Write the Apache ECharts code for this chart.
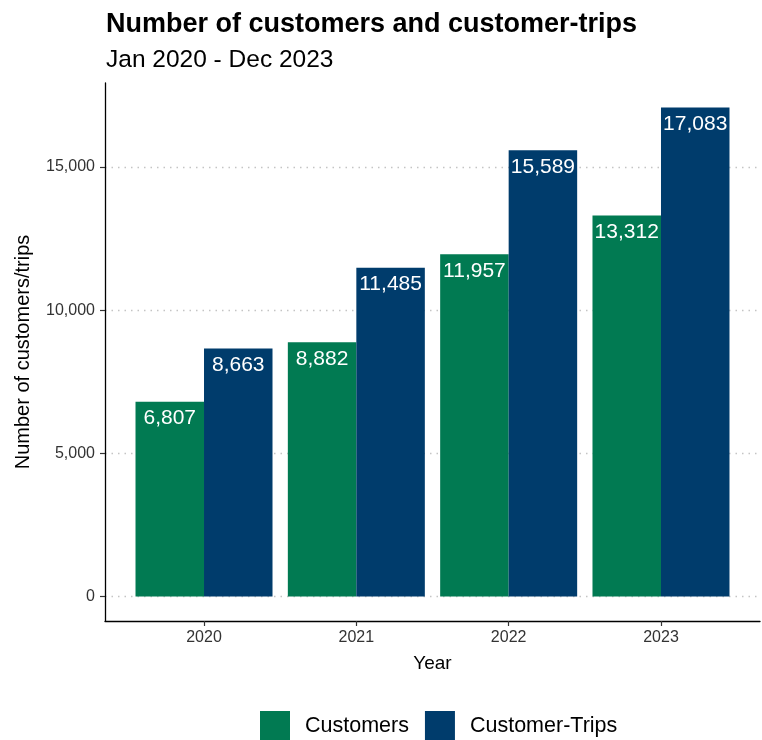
<!DOCTYPE html>
<html>
<head>
<meta charset="utf-8">
<style>
  html, body { margin: 0; padding: 0; background: #fff; }
  #chart { width: 762px; height: 740px; }
</style>
<script src="https://cdn.jsdelivr.net/npm/echarts@6/dist/echarts.min.js"></script>
</head>
<body>
<div id="chart"></div>
<script>
// Yearly totals
const years = ['2020', '2021', '2022', '2023'];
const customers = [6807, 8882, 11957, 13312];
const customerTrips = [8663, 11485, 15589, 17083];
const yTicks = [0, 5000, 10000, 15000];

const FONT = '"Liberation Sans", Arial, sans-serif';
const fmt = v => Math.round(v).toLocaleString('en-US');

// Year positions on a numeric axis: 1..n, padded 0.65 on each side
const xPos = years.map((_, i) => i + 1);
const toPairs = vals => vals.map((v, i) => [xPos[i], v]);

// Value range padded by 5% of the data span on both ends
const yMaxData = Math.max(...customers, ...customerTrips);
const yMin = -0.05 * yMaxData;
const yMax = 1.05 * yMaxData;

const chart = echarts.init(document.getElementById('chart'), null, { renderer: 'canvas' });

const barLabel = {
  show: true,
  position: 'insideTop',
  distance: 6,
  color: '#ffffff',
  fontFamily: FONT,
  fontSize: 21,
  formatter: p => fmt(p.value[1])
};

chart.setOption({
  animation: false,
  backgroundColor: '#ffffff',
  textStyle: { fontFamily: FONT },
  title: [
    {
      text: 'Number of customers and customer-trips',
      left: 101, top: 6,
      textStyle: { fontFamily: FONT, fontSize: 27, fontWeight: 'bold', color: '#000' }
    },
    {
      text: 'Jan 2020 - Dec 2023',
      left: 101, top: 43,
      textStyle: { fontFamily: FONT, fontSize: 24.5, fontWeight: 'normal', color: '#000' }
    }
  ],
  legend: {
    left: 260, top: 711,
    padding: 0,
    itemWidth: 30, itemHeight: 30, itemGap: 16,
    icon: 'rect',
    textStyle: { fontFamily: FONT, fontSize: 21.5, color: '#000', padding: [4, 0, 0, 10] },
    data: ['Customers', 'Customer-Trips']
  },
  grid: { left: 105, right: 2, top: 83, bottom: 119, containLabel: false },
  xAxis: {
    type: 'value',
    min: 0.35, max: xPos.length + 0.65,
    name: 'Year',
    nameLocation: 'middle',
    nameGap: 33,
    nameTextStyle: { fontFamily: FONT, fontSize: 19, color: '#000' },
    axisLine: { show: true, onZero: false, lineStyle: { color: '#000', width: 1.3 } },
    axisTick: { show: true, length: 5, customValues: xPos, lineStyle: { color: '#333', width: 1.2 } },
    axisLabel: {
      customValues: xPos,
      margin: 9,
      fontFamily: FONT, fontSize: 16, color: '#333',
      formatter: v => years[Math.round(v) - 1]
    },
    splitLine: { show: false }
  },
  yAxis: {
    type: 'value',
    min: yMin, max: yMax,
    name: 'Number of customers/trips',
    nameLocation: 'middle',
    nameGap: 72,
    nameRotate: 90,
    nameTextStyle: { fontFamily: FONT, fontSize: 20, color: '#000' },
    axisLine: { show: true, lineStyle: { color: '#000', width: 1.3 } },
    axisTick: { show: true, length: 5, customValues: yTicks, lineStyle: { color: '#333', width: 1.2 } },
    axisLabel: {
      customValues: yTicks,
      margin: 10,
      fontFamily: FONT, fontSize: 16, color: '#333',
      formatter: v => fmt(v)
    },
    splitLine: { show: true, lineStyle: { color: '#c4c4c4', width: 1.3, type: [1.5, 5] } }
  },
  series: [
    {
      name: 'Customers',
      type: 'bar',
      barWidth: 68.5,
      barGap: '0%',
      itemStyle: { color: '#017A52' },
      label: barLabel,
      data: toPairs(customers)
    },
    {
      name: 'Customer-Trips',
      type: 'bar',
      barWidth: 68.5,
      barGap: '0%',
      itemStyle: { color: '#003C6C' },
      label: barLabel,
      data: toPairs(customerTrips)
    }
  ]
});
</script>
</body>
</html>
